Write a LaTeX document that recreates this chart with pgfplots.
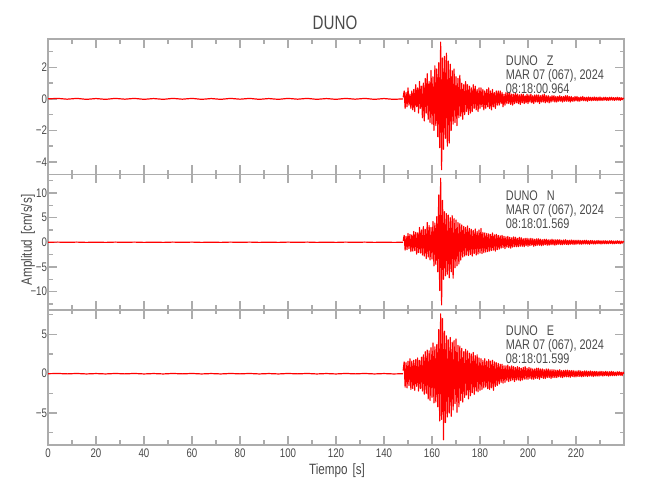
\documentclass[border=0pt]{standalone}
\usepackage{pgfplots}
\usepackage{pgfplotstable}
\pgfplotsset{compat=1.18}
\usepackage{fontspec}
\setmainfont[FakeStretch=0.78]{Liberation Sans}
\definecolor{axgray}{RGB}{172,172,172}
\definecolor{txtgray}{RGB}{75,75,75}
\definecolor{sred}{RGB}{255,0,0}
\pgfplotsset{
  seis/.style={
    scale only axis, width=576bp, height=135.5bp, anchor=south west,
    xmin=0, xmax=240, xtick={0,20,...,220}, minor xtick={10,30,...,230},
    tick align=inside, tick pos=both,
    major tick length=9bp, minor tick length=4.5bp,
    axis line style={axgray, line width=1.4bp},
    tick style={axgray, line width=1.4bp},
    tick label style={font=\fontsize{12.5}{14}\selectfont, text=txtgray},
    yticklabel style={xshift=2.5bp},
    /pgf/number format/assume math mode=true,
    clip=true,
  },
  trace/.style={draw=sred, color=sred, line width=1.15bp, line join=round},
  preline/.style={draw=sred, color=sred, line width=1.2bp, line join=round},
}
\newcommand{\ann}[4]{%
  \node[anchor=base west, font=\fontsize{14}{16}\selectfont, text=txtgray, inner sep=0pt] at (505.7bp,#1bp) {DUNO\hspace{9bp}#4};
  \node[anchor=base west, font=\fontsize{14}{16}\selectfont, text=txtgray, inner sep=0pt] at (505.7bp,#2bp) {MAR 07 (067), 2024};
  \node[anchor=base west, font=\fontsize{14}{16}\selectfont, text=txtgray, inner sep=0pt] at (505.7bp,#3bp) {\csname annt#4\endcsname};
}
\newcommand{\anntZ}{08:18:00.964}
\newcommand{\anntN}{08:18:01.569}
\newcommand{\anntE}{08:18:01.599}
% background noise, one sample every 4 s from t = 0 to 148 s
\pgfplotstableread[row sep=\\, header=false]{
0\\0.03\\-0.02\\0.03\\-0.03\\0.02\\-0.03\\0.03\\-0.02\\0.03\\
-0.03\\0.02\\-0.03\\0.03\\-0.02\\0.03\\-0.03\\0.02\\-0.03\\0.03\\
-0.02\\0.03\\-0.03\\0.02\\-0.03\\0.03\\-0.02\\0.03\\-0.03\\0.02\\
-0.03\\0.03\\-0.02\\0.03\\-0.03\\0.02\\-0.03\\0\\
}\tabP
% amplitude samples every 0.4 s starting at t = 148 s
\pgfplotstableread[row sep=\\, header=false]{
0.1\\0.5\\-0.6\\0.4\\-0.5\\0.7\\-0.4\\0.3\\-0.6\\0.5\\
-0.7\\0.6\\-0.8\\0.9\\-0.5\\0.7\\-0.9\\1.1\\-0.6\\0.8\\
-1.2\\1.0\\-1.4\\1.3\\-0.9\\1.6\\-1.3\\1.1\\-1.5\\1.8\\
-1.6\\1.4\\-2.0\\2.1\\-1.7\\1.9\\-2.4\\2.3\\-3.1\\3.6\\
-4.5\\2.6\\-3.2\\2.7\\-2.5\\2.9\\-3.0\\2.4\\-2.8\\2.2\\
-2.0\\1.8\\-1.6\\1.9\\-1.5\\1.4\\-1.7\\1.3\\-1.2\\1.5\\
-1.1\\1.0\\-1.3\\0.9\\-1.0\\1.1\\-0.8\\0.9\\-1.0\\0.8\\
-0.9\\0.7\\-0.8\\0.9\\-0.6\\0.8\\-0.7\\0.6\\-0.8\\0.7\\
-0.6\\0.7\\-0.5\\0.6\\-0.7\\0.5\\-0.6\\0.6\\-0.5\\0.7\\
-0.6\\0.5\\-0.7\\0.6\\-0.5\\0.4\\-0.6\\0.5\\-0.4\\0.5\\
-0.4\\0.5\\-0.3\\0.4\\-0.5\\0.3\\-0.4\\0.4\\-0.3\\0.4\\
-0.3\\0.4\\-0.35\\0.3\\-0.4\\0.3\\-0.3\\0.35\\-0.25\\0.3\\
-0.3\\0.25\\-0.35\\0.3\\-0.25\\0.3\\-0.3\\0.2\\-0.25\\0.3\\
-0.3\\0.25\\-0.2\\0.3\\-0.25\\0.2\\-0.3\\0.25\\-0.2\\0.25\\
-0.2\\0.25\\-0.3\\0.2\\-0.2\\0.25\\-0.2\\0.3\\-0.25\\0.2\\
-0.2\\0.2\\-0.25\\0.15\\-0.2\\0.2\\-0.15\\0.2\\-0.2\\0.15\\
-0.2\\0.15\\-0.15\\0.2\\-0.15\\0.15\\-0.2\\0.15\\-0.15\\0.2\\
-0.15\\0.2\\-0.15\\0.15\\-0.2\\0.15\\-0.15\\0.1\\-0.15\\0.15\\
-0.12\\0.15\\-0.15\\0.1\\-0.15\\0.12\\-0.1\\0.15\\-0.12\\0.1\\
-0.12\\0.1\\-0.15\\0.12\\-0.1\\0.1\\-0.12\\0.1\\-0.1\\0.12\\
-0.1\\0.1\\-0.12\\0.1\\-0.1\\0.12\\-0.1\\0.08\\-0.1\\0.1\\
-0.08\\0.1\\-0.1\\0.08\\-0.1\\0.1\\-0.08\\0.1\\-0.08\\0.08\\
-0.1\\0.08\\-0.08\\0.1\\-0.08\\0.08\\-0.1\\0.08\\-0.06\\0.05\\0\\
}\tabZ
\pgfplotstableread[row sep=\\, header=false]{
0.3\\1.4\\-1.6\\1.2\\-1.5\\1.8\\-1.3\\1.6\\-1.9\\1.5\\
-1.8\\2.2\\-1.7\\2.0\\-2.4\\1.9\\-2.1\\3.0\\-2.2\\2.5\\
-2.6\\3.2\\-2.8\\2.6\\-3.3\\4.0\\-3.0\\3.4\\-3.6\\3.0\\
-3.4\\4.2\\-4.8\\3.9\\-4.5\\5.2\\-6.0\\9.6\\-9.8\\13.0\\
-12.7\\8.5\\-7.5\\6.2\\-6.8\\5.8\\-6.5\\5.5\\-7.2\\5.0\\
-6.0\\5.4\\-7.3\\4.8\\-5.2\\4.5\\-4.8\\4.0\\-4.4\\3.8\\
-3.6\\3.5\\-3.0\\3.2\\-2.8\\3.0\\-2.6\\3.3\\-2.7\\2.8\\
-2.5\\2.6\\-2.8\\2.4\\-2.3\\2.7\\-2.6\\2.2\\-2.4\\2.5\\
-2.2\\2.8\\-2.3\\2.0\\-2.1\\1.9\\-2.0\\1.8\\-1.9\\1.7\\
-1.8\\1.6\\-1.7\\1.9\\-1.6\\1.5\\-1.8\\1.6\\-1.5\\1.4\\
-1.4\\1.3\\-1.2\\1.4\\-1.1\\1.2\\-1.3\\1.1\\-1.0\\1.2\\
-1.1\\1.0\\-1.2\\0.9\\-1.0\\1.1\\-0.9\\1.0\\-0.9\\0.8\\
-0.9\\1.0\\-0.8\\0.9\\-0.8\\0.7\\-0.9\\0.8\\-0.7\\0.8\\
-0.8\\0.7\\-0.7\\0.8\\-0.6\\0.7\\-0.8\\0.6\\-0.7\\0.7\\
-0.6\\0.7\\-0.6\\0.6\\-0.7\\0.5\\-0.6\\0.6\\-0.5\\0.6\\
-0.6\\0.5\\-0.6\\0.5\\-0.5\\0.6\\-0.5\\0.5\\-0.6\\0.5\\
-0.5\\0.5\\-0.4\\0.5\\-0.5\\0.4\\-0.5\\0.45\\-0.4\\0.5\\
-0.45\\0.4\\-0.5\\0.4\\-0.4\\0.45\\-0.4\\0.4\\-0.45\\0.4\\
-0.4\\0.4\\-0.35\\0.4\\-0.4\\0.35\\-0.4\\0.35\\-0.35\\0.4\\
-0.35\\0.4\\-0.35\\0.3\\-0.4\\0.35\\-0.3\\0.35\\-0.35\\0.3\\
-0.35\\0.3\\-0.3\\0.35\\-0.3\\0.3\\-0.35\\0.3\\-0.3\\0.3\\
-0.3\\0.3\\-0.3\\0.25\\-0.3\\0.3\\-0.25\\0.3\\-0.3\\0.25\\
-0.3\\0.25\\-0.25\\0.3\\-0.25\\0.25\\-0.3\\0.25\\-0.2\\0.2\\0\\
}\tabN
\pgfplotstableread[row sep=\\, header=false]{
0.4\\1.5\\-1.7\\1.4\\-1.8\\1.6\\-1.5\\1.9\\-2.0\\1.6\\
-1.9\\1.7\\-2.1\\1.8\\-1.6\\2.0\\-2.2\\1.7\\-1.9\\2.1\\
-2.2\\2.4\\-2.6\\2.8\\-2.5\\3.0\\-3.2\\2.9\\-3.4\\3.3\\
-3.0\\3.9\\-3.7\\3.4\\-3.6\\3.7\\-4.2\\5.6\\-6.0\\7.6\\
-5.8\\7.0\\-8.4\\5.4\\-6.2\\4.8\\-5.5\\4.3\\-5.0\\4.6\\
-5.4\\4.0\\-4.6\\4.2\\-3.8\\4.4\\-4.9\\3.6\\-4.2\\3.5\\
-3.4\\3.2\\-3.6\\2.8\\-3.0\\3.1\\-2.7\\2.9\\-3.2\\2.6\\
-2.8\\2.5\\-2.4\\2.7\\-2.6\\2.3\\-2.2\\2.4\\-2.3\\2.0\\
-2.1\\1.9\\-2.0\\1.7\\-1.8\\1.9\\-1.7\\1.6\\-1.9\\1.8\\
-2.0\\1.6\\-1.8\\1.7\\-2.1\\1.5\\-1.6\\1.4\\-1.5\\1.3\\
-1.3\\1.2\\-1.1\\1.2\\-1.2\\1.0\\-1.1\\1.0\\-0.9\\1.1\\
-1.0\\0.9\\-0.9\\1.0\\-0.8\\0.9\\-1.0\\0.8\\-0.8\\0.9\\
-0.8\\0.8\\-0.9\\0.7\\-0.8\\0.8\\-0.7\\0.9\\-0.7\\0.7\\
-0.7\\0.8\\-0.6\\0.7\\-0.7\\0.6\\-0.7\\0.6\\-0.6\\0.7\\
-0.6\\0.7\\-0.7\\0.6\\-0.5\\0.6\\-0.6\\0.5\\-0.6\\0.6\\
-0.5\\0.6\\-0.5\\0.5\\-0.6\\0.5\\-0.5\\0.5\\-0.5\\0.45\\
-0.5\\0.45\\-0.4\\0.5\\-0.45\\0.4\\-0.5\\0.4\\-0.4\\0.45\\
-0.4\\0.45\\-0.4\\0.4\\-0.45\\0.4\\-0.35\\0.4\\-0.4\\0.35\\
-0.4\\0.35\\-0.35\\0.4\\-0.35\\0.35\\-0.4\\0.3\\-0.35\\0.35\\
-0.3\\0.35\\-0.35\\0.3\\-0.3\\0.35\\-0.3\\0.3\\-0.35\\0.3\\
-0.3\\0.3\\-0.3\\0.25\\-0.3\\0.3\\-0.25\\0.3\\-0.3\\0.25\\
-0.25\\0.3\\-0.25\\0.25\\-0.3\\0.25\\-0.25\\0.3\\-0.25\\0.25\\
-0.25\\0.2\\-0.25\\0.25\\-0.2\\0.25\\-0.2\\0.2\\-0.25\\0.2\\0\\
}\tabE
\begin{document}
\begin{tikzpicture}
\useasboundingbox (0,0) rectangle (650bp,500bp);
\fill[white] (0,0) rectangle (650bp,500bp);
% ---------------- Z ----------------
\begin{axis}[seis, at={(48bp,325.5bp)}, ymin=-4.8, ymax=3.8,
  ytick={-4,-2,0,2}, yticklabels={−4,−2,0,2}, minor ytick={-3,-1,1,3},
  xticklabels={}]
\addplot[preline] table[x expr=4*\coordindex, y index=0] {\tabP};
\addplot[trace] table[x expr=148+0.4*\coordindex, y index=0] {\tabZ};
\end{axis}
% ---------------- N ----------------
\begin{axis}[seis, at={(48bp,190bp)}, ymin=-13.75, ymax=13.75,
  ytick={-10,-5,0,5,10}, yticklabels={−10,−5,0,5,10},
  minor ytick={-12.5,-7.5,-2.5,2.5,7.5,12.5},
  xticklabels={}]
\addplot[preline] table[x expr=4*\coordindex, y index=0] {\tabP};
\addplot[trace] table[x expr=148+0.4*\coordindex, y index=0] {\tabN};
\end{axis}
% ---------------- E ----------------
\begin{axis}[seis, at={(48bp,55bp)}, ymin=-9.05, ymax=8.15,
  ytick={-5,0,5}, yticklabels={−5,0,5},
  minor ytick={-7.5,-2.5,2.5,7.5}]
\addplot[preline] table[x expr=4*\coordindex, y index=0] {\tabP};
\addplot[trace] table[x expr=148+0.4*\coordindex, y index=0] {\tabE};
\end{axis}
% ---------------- texts ----------------
\ann{434}{420}{406}{Z}
\ann{299}{285}{271}{N}
\ann{164}{150}{136}{E}
\node[font=\fontsize{19.5}{22}\selectfont, text=txtgray] at (335bp,477bp) {DUNO};
\node[font=\fontsize{15}{17}\selectfont, text=txtgray] at (337bp,29bp) {Tiempo\hspace{5bp}[s]};
\node[font=\fontsize{15}{17}\selectfont, text=txtgray, rotate=90] at (28bp,260bp) {Amplitud\hspace{5bp}[cm/s/s]};
\end{tikzpicture}
\end{document}
